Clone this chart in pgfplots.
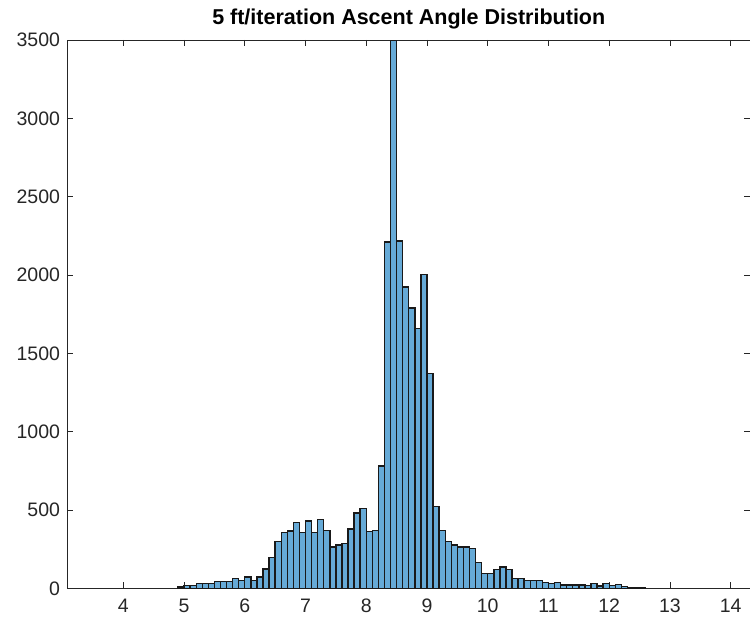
\documentclass[border=0pt]{standalone}
\usepackage{fontspec}
\setmainfont{Liberation Sans}
\usepackage{pgfplots}
\pgfplotsset{compat=1.18}
\definecolor{barfill}{RGB}{102,170,215}
\definecolor{axgray}{gray}{0.15}
\begin{document}
\begin{tikzpicture}[x=1pt,y=1pt]
\useasboundingbox (0,0) rectangle (750,624);
\begin{axis}[
  scale only axis,
  width=682.5pt, height=548.5pt,
  at={(67.5pt,35.5pt)}, anchor=south west,
  xmin=3.081, xmax=14.318, ymin=0, ymax=3500,
  xtick={4,5,...,14}, ytick={0,500,...,3500},
  tick align=inside,
  major tick length=6pt,
  tick style={color=axgray, line width=0.8pt},
  axis line style={color=axgray, line width=0.8pt},
  /pgf/number format/assume math mode=true,
  /pgf/number format/1000 sep={},
  tick label style={font=\fontsize{19.5}{22}\selectfont, text=axgray},
  xticklabel style={yshift=-7pt},
  yticklabel style={xshift=-4pt},
  title={\textbf{5 ft/iteration Ascent Angle Distribution}},
  title style={font=\fontsize{21.5}{24}\selectfont, at={(0.5,1)}, anchor=base, yshift=9pt},
  clip=true,
]
\addplot[ybar interval, fill=barfill, draw=black!90, line width=1.4pt] coordinates {
(4.9,10) (5.0,18) (5.1,18) (5.2,32) (5.3,32) (5.4,32) (5.5,43) (5.6,43) (5.7,43)
(5.8,63) (5.9,52) (6.0,73) (6.1,52) (6.2,74) (6.3,124) (6.4,197) (6.5,298)
(6.6,358) (6.7,368) (6.8,421) (6.9,357) (7.0,431) (7.1,359) (7.2,440) (7.3,369)
(7.4,266) (7.5,277) (7.6,287) (7.7,379) (7.8,481) (7.9,511) (8.0,362) (8.1,370)
(8.2,781) (8.3,2212) (8.4,3495) (8.5,2218) (8.6,1925) (8.7,1790) (8.8,1660)
(8.9,2004) (9.0,1372) (9.1,525) (9.2,372) (9.3,298) (9.4,277) (9.5,266) (9.6,266)
(9.7,255) (9.8,164) (9.9,96) (10.0,96) (10.1,123) (10.2,138) (10.3,123) (10.4,62)
(10.5,62) (10.6,51) (10.7,51) (10.8,51) (10.9,40) (11.0,32) (11.1,40) (11.2,22)
(11.3,22) (11.4,22) (11.5,22) (11.6,18) (11.7,30) (11.8,16) (11.9,32) (12.0,21)
(12.1,24) (12.2,12) (12.3,3) (12.4,8) (12.5,8) (12.6,0)
};
\end{axis}
\end{tikzpicture}
\end{document}
